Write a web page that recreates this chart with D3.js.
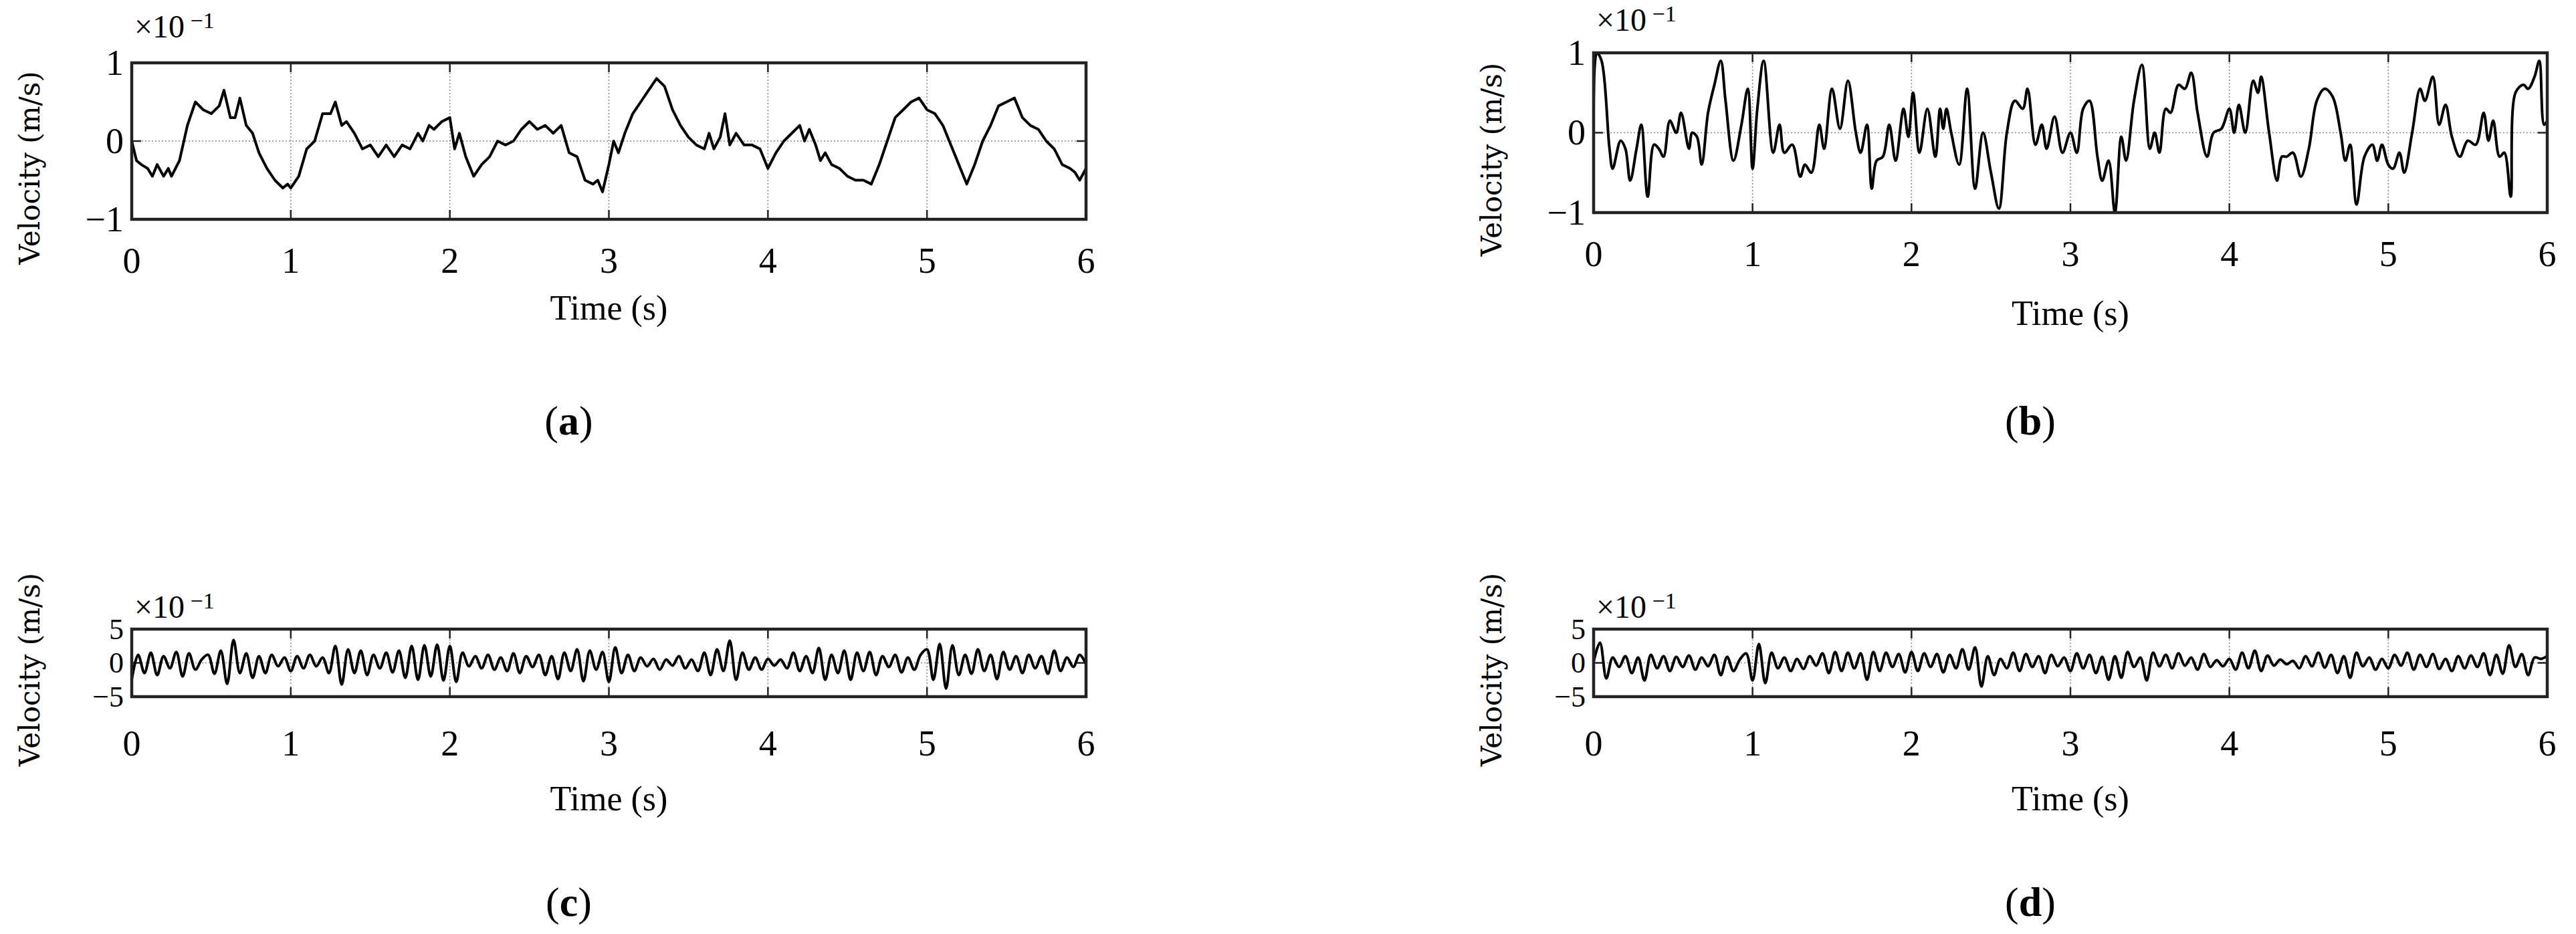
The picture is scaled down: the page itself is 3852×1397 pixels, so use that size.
<!DOCTYPE html>
<html>
<head>
<meta charset="utf-8">
<script src="https://cdn.jsdelivr.net/npm/d3@7"></script>
<style>
  body { margin: 0; background: #fff; }
  text { fill: #000; }
</style>
</head>
<body>
<svg id="chart" width="3852" height="1397"></svg>
<script>
// panel (a): [time, velocity x10^-1]
const seriesA = [
  [0,0],[0.03,-0.25],[0.06,-0.3],[0.1,-0.35],[0.13,-0.45],[0.16,-0.3],[0.2,-0.45],[0.23,-0.35],[0.25,-0.45],[0.3,-0.25],
  [0.35,0.2],[0.4,0.5],[0.45,0.4],[0.5,0.35],[0.55,0.45],[0.58,0.65],[0.62,0.3],[0.65,0.3],[0.68,0.55],[0.72,0.2],
  [0.76,0.1],[0.8,-0.15],[0.85,-0.35],[0.9,-0.5],[0.95,-0.6],[0.98,-0.55],[1.0,-0.6],[1.05,-0.45],[1.1,-0.1],[1.15,0.0],
  [1.2,0.35],[1.25,0.35],[1.28,0.5],[1.32,0.2],[1.35,0.25],[1.4,0.1],[1.45,-0.1],[1.5,-0.05],[1.55,-0.2],[1.6,-0.05],
  [1.65,-0.2],[1.7,-0.05],[1.75,-0.1],[1.8,0.1],[1.83,0.0],[1.87,0.2],[1.9,0.15],[1.95,0.25],[2.0,0.3],[2.03,-0.1],
  [2.06,0.1],[2.1,-0.2],[2.15,-0.45],[2.2,-0.3],[2.25,-0.2],[2.3,0.0],[2.35,-0.05],[2.4,0.0],[2.45,0.15],[2.5,0.25],
  [2.55,0.15],[2.6,0.2],[2.65,0.1],[2.7,0.2],[2.75,-0.15],[2.8,-0.2],[2.85,-0.5],[2.9,-0.55],[2.93,-0.5],[2.96,-0.65],
  [3.0,-0.3],[3.03,0.0],[3.06,-0.15],[3.1,0.1],[3.15,0.35],[3.2,0.5],[3.25,0.65],[3.3,0.8],[3.35,0.7],[3.4,0.4],
  [3.45,0.2],[3.5,0.05],[3.55,-0.05],[3.6,-0.1],[3.63,0.1],[3.66,-0.1],[3.7,0.05],[3.73,0.35],[3.76,-0.05],[3.8,0.1],
  [3.85,-0.05],[3.9,-0.05],[3.95,-0.1],[4.0,-0.35],[4.05,-0.15],[4.1,0.0],[4.15,0.1],[4.2,0.2],[4.23,0.0],[4.26,0.15],
  [4.3,-0.05],[4.33,-0.25],[4.36,-0.15],[4.4,-0.3],[4.45,-0.35],[4.5,-0.45],[4.55,-0.5],[4.6,-0.5],[4.65,-0.55],[4.7,-0.3],
  [4.75,0.0],[4.8,0.3],[4.85,0.4],[4.9,0.5],[4.95,0.55],[5.0,0.4],[5.05,0.35],[5.1,0.2],[5.15,-0.05],[5.2,-0.3],
  [5.25,-0.55],[5.3,-0.3],[5.35,0.0],[5.4,0.2],[5.45,0.45],[5.5,0.5],[5.55,0.55],[5.6,0.3],[5.65,0.2],[5.7,0.15],
  [5.75,0.0],[5.8,-0.1],[5.85,-0.3],[5.9,-0.35],[5.93,-0.4],[5.96,-0.5],[6.0,-0.35]
];

// panel (b): [time, velocity x10^-1]
const seriesB = [
  [0,0.1],[0.02,1.0],[0.05,0.9],[0.1,-0.2],[0.12,-0.45],[0.17,-0.1],[0.2,-0.2],[0.23,-0.6],[0.27,-0.2],[0.3,0.1],
  [0.34,-0.8],[0.38,-0.15],[0.41,-0.2],[0.44,-0.3],[0.48,0.15],[0.52,0.0],[0.55,0.25],[0.6,-0.2],[0.62,0.0],[0.65,-0.05],
  [0.68,-0.4],[0.72,0.25],[0.76,0.6],[0.8,0.9],[0.83,0.4],[0.88,-0.35],[0.93,0.1],[0.97,0.55],[1.0,-0.45],[1.03,0.3],
  [1.07,0.9],[1.13,-0.25],[1.17,0.1],[1.2,-0.25],[1.25,-0.15],[1.3,-0.55],[1.33,-0.4],[1.37,-0.5],[1.42,0.1],[1.45,-0.2],
  [1.5,0.55],[1.55,0.05],[1.6,0.65],[1.65,0.0],[1.68,-0.25],[1.72,0.1],[1.75,-0.7],[1.78,-0.35],[1.82,-0.3],[1.86,0.1],
  [1.9,-0.35],[1.95,0.3],[1.98,-0.05],[2.01,0.5],[2.05,-0.25],[2.1,0.3],[2.15,-0.3],[2.18,0.3],[2.2,0.05],[2.22,0.3],
  [2.25,0.0],[2.3,-0.4],[2.35,0.55],[2.4,-0.7],[2.45,0.0],[2.5,-0.5],[2.55,-0.95],[2.6,0.0],[2.65,0.4],[2.7,0.3],
  [2.73,0.55],[2.78,-0.15],[2.82,0.1],[2.85,-0.2],[2.9,0.2],[2.95,-0.25],[3.0,0.0],[3.04,-0.25],[3.08,0.3],[3.12,0.4],
  [3.17,-0.3],[3.2,-0.6],[3.24,-0.35],[3.28,-1.0],[3.32,-0.05],[3.35,-0.35],[3.4,0.4],[3.45,0.85],[3.5,-0.2],[3.53,0.0],
  [3.56,-0.25],[3.6,0.3],[3.63,0.25],[3.68,0.6],[3.72,0.55],[3.76,0.75],[3.8,0.25],[3.86,-0.3],[3.9,0.0],[3.95,0.05],
  [4.0,0.3],[4.03,0.0],[4.06,0.35],[4.1,0.0],[4.15,0.65],[4.18,0.5],[4.2,0.7],[4.25,0.0],[4.3,-0.6],[4.33,-0.3],
  [4.36,-0.3],[4.4,-0.25],[4.45,-0.55],[4.5,-0.2],[4.55,0.4],[4.6,0.55],[4.65,0.45],[4.7,0.0],[4.73,-0.35],[4.76,-0.15],
  [4.8,-0.9],[4.85,-0.3],[4.9,-0.15],[4.93,-0.35],[4.96,-0.15],[5.0,-0.4],[5.03,-0.45],[5.07,-0.25],[5.1,-0.5],[5.15,0.0],
  [5.2,0.55],[5.23,0.4],[5.28,0.7],[5.32,0.1],[5.36,0.35],[5.4,-0.05],[5.45,-0.3],[5.5,-0.1],[5.55,-0.15],[5.6,0.25],
  [5.63,-0.1],[5.66,0.15],[5.7,-0.3],[5.73,-0.25],[5.77,-0.8],[5.8,0.5],[5.85,0.6],[5.88,0.55],[5.92,0.7],[5.95,0.9],
  [5.98,0.1],[6.0,0.15]
];

// panels (c) and (d): sampled every 0.04 s, velocity x10^-1
const stepCD = 0.04;
const valuesC = [
  -2.5, 1.2, -1.5, 1.5, -1.8, 1.0, -0.8, 1.6, -2.0, 1.4, -1.0, 0.5, 1.2, -1.6, 1.8, -3.1, 3.4, -1.5, 1.4, -2.2, 1.0, -1.5, 1.2, -0.5, 0.8,
  -1.2, 1.0, -0.8, 1.2, -0.5, 0.8, -1.5, 2.5, -3.2, 2.0, -1.5, 1.8, -1.8, 1.2, -0.8, 1.5, -1.4, 1.8, -2.2, 2.5, -2.5, 2.6, -2.0, 2.7, -2.6,
  2.5, -2.8, 1.5, -0.5, 1.0, -0.8, 1.2, -1.0, 0.8, -1.2, 1.4, -1.5, 1.0, -0.6, 1.2, -1.8, 1.0, -2.4, 1.5, -1.2, 2.0, -2.7, 1.8, -1.0, 1.6,
  -2.8, 2.3, -1.5, 1.2, -1.2, 0.8, -0.5, 0.6, -1.0, 0.5, -0.4, 1.0, -0.8, 0.5, -1.2, 1.5, -1.8, 2.0, -1.2, 3.3, -2.5, 1.5, -1.0, 0.8, -1.0,
  0.6, -0.4, 0.5, -0.8, 1.5, -1.2, 1.0, -1.5, 2.2, -2.5, 1.2, -1.5, 1.8, -2.5, 1.5, -1.2, 1.6, -1.8, 1.0, -0.6, 1.2, -1.4, 0.8, -1.0, 1.2,
  2.0, -2.5, 2.8, -3.8, 2.6, -1.8, 1.2, -1.6, 2.0, -1.2, 1.2, -2.4, 1.6, -1.0, 1.0, -1.5, 1.2, -0.8, 1.0, -1.6, 1.8, -1.2, 0.8, -0.6, 1.2,
  -0.2
];
const valuesD = [
  0.2, 3.0, -2.3, 0.8, -0.6, 1.0, -1.5, 0.8, -2.6, 1.2, -0.8, 1.0, -1.2, 0.9, -0.6, 1.1, -1.0, 0.8, -0.5, 1.2, -1.8, 0.9, -1.2, 0.5, 1.4,
  -2.6, 2.8, -3.0, 1.5, -0.8, 0.8, -1.2, 0.6, -0.9, 1.0, -0.4, 1.4, -1.5, 1.6, -1.2, 1.5, -0.8, 1.4, -2.5, 1.6, -1.2, 1.5, -0.6, 1.3, -1.4,
  1.6, -1.2, 1.4, -0.6, 1.3, -1.4, 1.2, -0.8, 2.0, -1.0, 2.3, -3.5, 1.0, -1.8, 0.6, -0.8, 1.5, -1.2, 1.3, -0.6, 1.0, -1.5, 1.2, -0.5, 0.8,
  -1.2, 1.4, -0.8, 1.2, -1.5, 0.9, -2.5, 1.0, -2.2, 1.6, -0.6, 0.8, -2.6, 1.5, -0.5, 1.2, -0.8, 1.4, -0.4, 0.8, -1.0, 1.3, -0.6, 0.4, -0.5,
  0.6, -1.0, 1.5, -0.8, 1.8, -1.2, 1.1, -0.4, 0.5, -0.2, 0.3, -0.8, 1.0, -0.5, 1.5, -0.7, 1.2, -1.5, 1.0, -2.2, 1.5, -0.5, 0.8, -1.0, 0.6,
  -0.8, 1.2, -0.4, 1.5, -1.0, 1.2, -0.6, 1.3, -0.9, 0.6, -1.2, 1.0, -0.8, 1.1, -0.6, 1.4, -1.8, 1.2, -1.6, 2.6, -0.6, 1.3, -1.8, 0.8, 0.6,
  1.0
];

const xTicks = [0, 1, 2, 3, 4, 5, 6];
const yTicksAB = [-1, 0, 1];
const yTicksCD = [-5, 0, 5];

const svg = d3.select("#chart");
const serif = "'Liberation Serif', 'Times New Roman', serif";

const panels = [
  {label: "a", data: seriesA, yTicks: yTicksAB, curve: d3.curveLinear, ySize: 54,
   x0: 197, x1: 1624, y0: 94, y1: 328, tickY: 408, titleY: 478, labelY: 650, expY: 56},
  {label: "b", data: seriesB, yTicks: yTicksAB, curve: d3.curveCatmullRom, ySize: 54,
   x0: 2383, x1: 3809, y0: 79, y1: 318, tickY: 398, titleY: 486, labelY: 650, expY: 46},
  {label: "c", data: valuesC.map((v, i) => [i * stepCD, v]), yTicks: yTicksCD, curve: d3.curveCatmullRom, ySize: 44,
   x0: 197, x1: 1624, y0: 941, y1: 1042, tickY: 1130, titleY: 1212, labelY: 1370, expY: 924},
  {label: "d", data: valuesD.map((v, i) => [i * stepCD, v]), yTicks: yTicksCD, curve: d3.curveCatmullRom, ySize: 44,
   x0: 2383, x1: 3809, y0: 941, y1: 1042, tickY: 1130, titleY: 1212, labelY: 1370, expY: 924}
];

panels.forEach(p => {
  const g = svg.append("g");
  const x = d3.scaleLinear().domain([0, 6]).range([p.x0, p.x1]);
  const ext = p.yTicks[p.yTicks.length - 1];
  const y = d3.scaleLinear().domain([-ext, ext]).range([p.y1, p.y0]);

  // grid
  g.selectAll(".vgrid").data(xTicks.slice(1, -1)).enter().append("line")
    .attr("x1", d => x(d)).attr("x2", d => x(d))
    .attr("y1", p.y0).attr("y2", p.y1)
    .attr("stroke", "#888").attr("stroke-width", 1.5).attr("stroke-dasharray", "2,3");
  g.append("line")
    .attr("x1", p.x0).attr("x2", p.x1).attr("y1", y(0)).attr("y2", y(0))
    .attr("stroke", "#888").attr("stroke-width", 1.5).attr("stroke-dasharray", "2,3");

  // inward ticks
  const tl = 14;
  xTicks.forEach(t => {
    g.append("line").attr("x1", x(t)).attr("x2", x(t)).attr("y1", p.y1).attr("y2", p.y1 - tl)
      .attr("stroke", "#222").attr("stroke-width", 2.5);
    g.append("line").attr("x1", x(t)).attr("x2", x(t)).attr("y1", p.y0).attr("y2", p.y0 + tl)
      .attr("stroke", "#222").attr("stroke-width", 2.5);
  });
  p.yTicks.forEach(t => {
    g.append("line").attr("x1", p.x0).attr("x2", p.x0 + tl).attr("y1", y(t)).attr("y2", y(t))
      .attr("stroke", "#222").attr("stroke-width", 2.5);
    g.append("line").attr("x1", p.x1).attr("x2", p.x1 - tl).attr("y1", y(t)).attr("y2", y(t))
      .attr("stroke", "#222").attr("stroke-width", 2.5);
  });

  // signal
  g.append("path").datum(p.data)
    .attr("fill", "none").attr("stroke", "#000").attr("stroke-width", 4)
    .attr("stroke-linejoin", "round")
    .attr("d", d3.line().x(d => x(d[0])).y(d => y(d[1])).curve(p.curve));

  // frame
  g.append("rect").attr("x", p.x0).attr("y", p.y0)
    .attr("width", p.x1 - p.x0).attr("height", p.y1 - p.y0)
    .attr("fill", "none").attr("stroke", "#222").attr("stroke-width", 4.5);

  // tick labels
  g.selectAll(".xt").data(xTicks).enter().append("text")
    .attr("x", d => x(d)).attr("y", p.tickY)
    .attr("text-anchor", "middle").attr("font-family", serif).attr("font-size", 54)
    .text(d => d);
  g.selectAll(".yt").data(p.yTicks).enter().append("text")
    .attr("x", p.x0 - 12).attr("y", d => y(d) + p.ySize * 0.33)
    .attr("text-anchor", "end").attr("font-family", serif).attr("font-size", p.ySize)
    .text(d => d < 0 ? "\u2212" + Math.abs(d) : d);

  // exponent
  const ex = g.append("text").attr("x", p.x0 + 4).attr("y", p.expY)
    .attr("font-family", serif).attr("font-size", 48);
  ex.append("tspan").text("\u00d710");
  ex.append("tspan").attr("dy", -14).attr("font-size", 34).text(" \u22121");

  // axis titles
  g.append("text").attr("x", (p.x0 + p.x1) / 2).attr("y", p.titleY)
    .attr("text-anchor", "middle").attr("font-family", serif).attr("font-size", 52)
    .text("Time (s)");
  const vy = (p.label === "a" || p.label === "b") ? (p.y0 + p.y1) / 2 + 40 : (p.y0 + p.y1) / 2 + 10;
  g.append("text")
    .attr("transform", `translate(${p.x0 - 138},${vy}) rotate(-90)`)
    .attr("text-anchor", "middle").attr("font-family", "'DejaVu Serif', serif").attr("font-size", 42)
    .text("Velocity (m/s)");

  // panel label
  const pl = g.append("text").attr("x", (p.x0 + p.x1) / 2 - 60).attr("y", p.labelY)
    .attr("text-anchor", "middle").attr("font-family", serif).attr("font-size", 62);
  pl.append("tspan").text("(");
  pl.append("tspan").attr("font-weight", "bold").text(p.label);
  pl.append("tspan").text(")");
});
</script>
</body>
</html>
